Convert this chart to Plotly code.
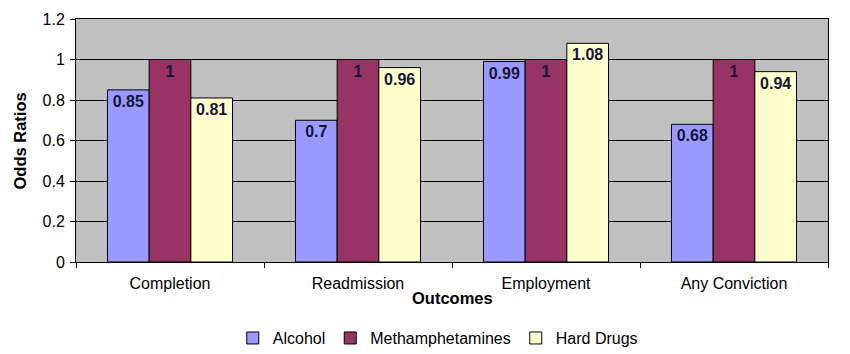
import plotly.graph_objects as go

categories = ["Completion", "Readmission", "Employment", "Any Conviction"]
alcohol = [0.85, 0.70, 0.99, 0.68]
meth = [1.0, 1.0, 1.0, 1.0]
hard = [0.81, 0.96, 1.08, 0.94]
series_names = ["Alcohol", "Methamphetamines", "Hard Drugs"]
colors = ["#9999FF", "#993366", "#FFFFCC"]

fig = go.Figure()
for name, vals, col in zip(series_names, [alcohol, meth, hard], colors):
    fig.add_trace(go.Bar(
        x=categories, y=vals, name=name,
        marker=dict(color=col, line=dict(color="black", width=1)),
        text=[f"{v:g}" for v in vals],
        textposition="inside", insidetextanchor="end", textangle=0,
        constraintext="none",
        textfont=dict(family="Liberation Sans, Arial", size=16, color="#15153a", weight="bold"),
        cliponaxis=False,
    ))

fig.update_layout(
    width=850, height=354,
    margin=dict(l=76, r=22, t=19, b=92),
    barmode="group", bargap=0.335, bargroupgap=0,
    plot_bgcolor="#C0C0C0", paper_bgcolor="white",
    font=dict(family="Liberation Sans, Arial", size=16, color="black"),
    showlegend=True,
    legend=dict(orientation="h", x=0.515, xanchor="center", xref="container",
                y=0.045, yanchor="middle", yref="container",
                font=dict(size=16), itemwidth=30, traceorder="normal"),
    xaxis=dict(showline=True, linecolor="black", linewidth=1, mirror=True,
               ticks="outside", tickson="boundaries", ticklen=5, tickcolor="black",
               ticklabelstandoff=7),
    yaxis=dict(range=[0, 1.2], dtick=0.2, showline=True, linecolor="black", linewidth=1,
               mirror=True, ticks="outside", ticklen=5, tickcolor="black",
               showgrid=True, gridcolor="black", gridwidth=1, zeroline=False,
               tickformat="~g", ticklabelstandoff=2),
    annotations=[
        dict(text="<b>Outcomes</b>", x=0.5, y=-0.15, xref="paper", yref="paper",
             showarrow=False, font=dict(size=16.5), yanchor="middle"),
        dict(text="<b>Odds Ratios</b>", x=-0.0745, y=0.5, xref="paper", yref="paper",
             showarrow=False, font=dict(size=16.5), textangle=-90, xanchor="center"),
    ],
)

fig.write_html("out.html")
